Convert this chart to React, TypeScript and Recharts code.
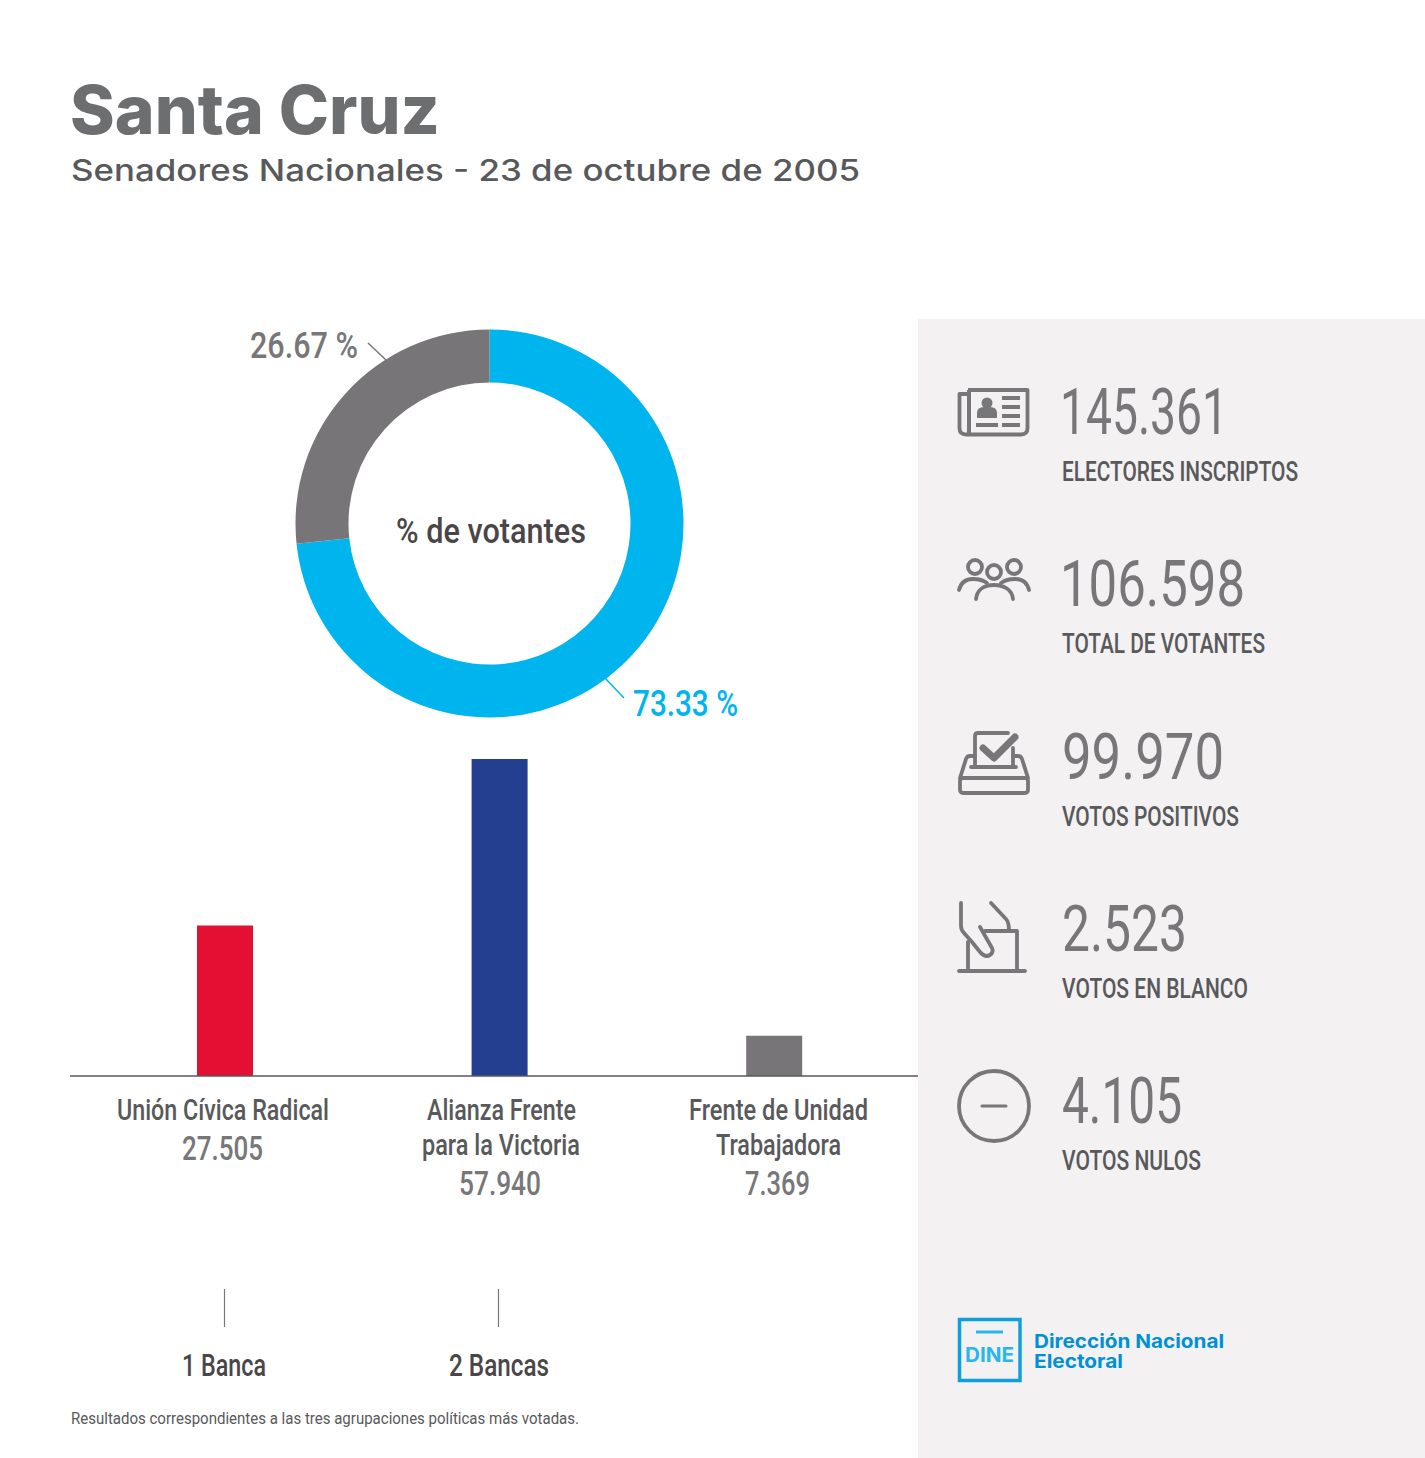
import { BarChart, Bar, Cell, XAxis, YAxis, PieChart, Pie } from "recharts";

const GRAY = "#77777a";
const DARK = "#58595b";
const CONDENSED = "'Roboto', sans-serif";
const WIDE = "'Inter', sans-serif";

// donut
const turnoutLabels = ["Votantes", "No votantes"];
const turnoutValues = [73.33, 26.67];
const turnoutColors = ["#00b5ee", "#777577"];

// bars
const parties = ["Unión Cívica Radical", "Alianza Frente para la Victoria", "Frente de Unidad Trabajadora"];
const partyVotes = [27505, 57940, 7369];
const partyVotesText = ["27.505", "57.940", "7.369"];
const partyColors = ["#e31033", "#243e90", "#777577"];
const partySeats = ["1 Banca", "2 Bancas", ""];

// side panel
const statValues = ["145.361", "106.598", "99.970", "2.523", "4.105"];
const statLabels = ["ELECTORES INSCRIPTOS", "TOTAL DE VOTANTES", "VOTOS POSITIVOS", "VOTOS EN BLANCO", "VOTOS NULOS"];

const barData = parties.map((name, i) => ({ name, votes: partyVotes[i] }));
const pieData = turnoutLabels.map((name, i) => ({ name, value: turnoutValues[i] }));

// layout of the side panel text, [x, width]
const statValueBox = [[1060, 168], [1060, 185], [1062, 162], [1062, 125], [1062, 120]];
const statLabelWidth = [236, 203, 177, 186, 139];

function Fit({ x, y, w, size, fill, weight = 400, font = CONDENSED, children }: any) {
  return (
    <text x={x} y={y} textLength={w} lengthAdjust="spacingAndGlyphs" fontSize={size} fill={fill} fontWeight={weight} fontFamily={font}>
      {children}
    </text>
  );
}

// lines under each bar: [text, x, width, baseline, size, colour, weight]
const tickLines: any[][] = [
  [
    [parties[0], 117, 212, 1120, 29, DARK, 500],
    [partyVotesText[0], 182, 81, 1160, 33, GRAY, 500],
  ],
  [
    ["Alianza Frente", 427, 149, 1120, 29, DARK, 500],
    ["para la Victoria", 422, 158, 1155, 29, DARK, 500],
    [partyVotesText[1], 459, 82, 1195, 33, GRAY, 500],
  ],
  [
    ["Frente de Unidad", 689, 179, 1120, 29, DARK, 500],
    ["Trabajadora", 716, 125, 1155, 29, DARK, 500],
    [partyVotesText[2], 745, 65, 1195, 33, GRAY, 500],
  ],
];
const seatBox = [[182, 84, 224.5], [449, 100, 498.5]];
const CHART_TOP = 700;

function PartyTick({ payload }: any) {
  const i = payload.index;
  return (
    <g>
      {tickLines[i].map(([t, x, w, y, s, c, wt]) => (
        <Fit key={t} x={x} y={y - CHART_TOP} w={w} size={s} fill={c} weight={wt}>{t}</Fit>
      ))}
      {partySeats[i] && (
        <>
          <line x1={seatBox[i][2]} x2={seatBox[i][2]} y1={1289 - CHART_TOP} y2={1327 - CHART_TOP} stroke={GRAY} strokeWidth={1.2} />
          <Fit x={seatBox[i][0]} y={1376 - CHART_TOP} w={seatBox[i][1]} size={31} weight={500} fill="#4a4647">{partySeats[i]}</Fit>
        </>
      )}
    </g>
  );
}

function Icons() {
  const line = { fill: "none", stroke: GRAY, strokeWidth: 3.8, strokeLinecap: "round" as const, strokeLinejoin: "round" as const };
  return (
    <g>
      {/* padron */}
      <path {...line} strokeLinecap="butt" d="M968 390 H1027.5 V428 Q1027.5 434.5 1021 434.5 H966 Q959.5 434.5 959.5 428 V394 H968" />
      <path fill="none" stroke={GRAY} strokeWidth={4} d="M969 390 V434" />
      <circle cx={987} cy={403} r={5.5} fill={GRAY} />
      <path fill={GRAY} d="M977 418 V413 Q977 407 984 407 H990 Q997 407 997 413 V418 Z" />
      <path stroke={GRAY} strokeWidth={4} d="M1002 398 H1020 M1002 407 H1020 M1002 416 H1020 M1002 425 H1020 M976 425 H998" />
      {/* votantes */}
      <circle {...line} cx={975} cy={567} r={7} />
      <circle {...line} cx={1014} cy={567} r={7} />
      <circle {...line} cx={994} cy={572} r={7} />
      <path {...line} d="M976 599 C977 589 985 585 994 585 C1003 585 1012 589 1013 599" />
      <path {...line} d="M959 590 C961 582 967 579 973 579 C979 579 983 580 987 583" />
      <path {...line} d="M1029 590 C1027 582 1021 579 1015 579 C1009 579 1005 580 1001 583" />
      {/* urna */}
      <path {...line} d="M975 765 V736 Q975 733 978 733 H1008" />
      <path {...line} d="M1013 748 V766" />
      <path {...line} d="M971 767 H1016" />
      <path fill="none" stroke={GRAY} strokeWidth={7} strokeLinecap="round" strokeLinejoin="round" d="M983 748 L994 758 L1015 737" />
      <path {...line} d="M975 756 H970 Q967 756 966 759 L960 778 M1013 756 H1018 Q1021 756 1022 759 L1028 778" />
      <rect {...line} x={960} y={778} width={68} height={15} rx={3} />
      {/* en blanco */}
      <path {...line} d="M961 903 V926 Q961 930 964 933 L972 942 L980 952 Q985 958 990 955 Q994 952 992 948 L980 927" />
      <path {...line} d="M991 903 L1006 919 Q1009 922 1009 931" />
      <path {...line} d="M985 931 H1017 V970 M968 942 V970 M959 971 H1025" />
      {/* nulos */}
      <circle {...line} cx={994} cy={1106} r={35} />
      <path {...line} strokeWidth={3} d="M982 1106 H1006" />
    </g>
  );
}

export default function App() {
  return (
    <div style={{ position: "absolute", left: 0, top: 0, width: 1425, height: 1458, background: "#fff", overflow: "hidden" }}>
      <svg width={1425} height={1458} style={{ position: "absolute", left: 0, top: 0 }}>
        <rect x={918} y={319} width={507} height={1139} fill="#f3f1f2" />
        <Fit x={70} y={134} w={370} size={67} weight={800} fill="#6d6e70" font={WIDE}>Santa Cruz</Fit>
        <Fit x={71} y={181} w={789} size={30} weight={500} fill={DARK} font={WIDE}>Senadores Nacionales - 23 de octubre de 2005</Fit>
        <Fit x={71} y={1424} w={508} size={17} fill={DARK}>Resultados correspondientes a las tres agrupaciones políticas más votadas.</Fit>

        {statValues.map((v, i) => (
          <Fit key={v} x={statValueBox[i][0]} y={434 + i * 172.3} w={statValueBox[i][1]} size={65} weight={400} fill={GRAY}>{v}</Fit>
        ))}
        {statLabels.map((v, i) => (
          <Fit key={v} x={1062} y={481 + i * 172.3} w={statLabelWidth[i]} size={27} weight={500} fill={DARK}>{v}</Fit>
        ))}
        <Icons />

        {/* logo */}
        <rect x={959.5} y={1319.5} width={60.5} height={61} fill="none" stroke="#0f9fdc" strokeWidth={3.5} />
        <path d="M976 1332 H1003" stroke="#29b6ee" strokeWidth={3} />
        <Fit x={965} y={1362} w={49} size={20} weight={700} fill="#29b6ee" font={WIDE}>DINE</Fit>
        <Fit x={1034} y={1347.5} w={190} size={19} weight={700} fill="#0090d4" font={WIDE}>Dirección Nacional</Fit>
        <Fit x={1034} y={1368} w={89} size={19} weight={700} fill="#0090d4" font={WIDE}>Electoral</Fit>
      </svg>

      <div style={{ position: "absolute", left: 289, top: 323 }}>
        <PieChart width={401} height={401} margin={{ top: 0, right: 0, bottom: 0, left: 0 }}>
          <Pie
            data={pieData}
            dataKey="value"
            cx={200.5}
            cy={200.5}
            innerRadius={141}
            outerRadius={194}
            startAngle={90}
            endAngle={-270}
            stroke="none"
            isAnimationActive={false}
          >
            {pieData.map((d, i) => (
              <Cell key={d.name} fill={turnoutColors[i]} />
            ))}
          </Pie>
        </PieChart>
      </div>

      <div style={{ position: "absolute", left: 0, top: CHART_TOP }}>
        <BarChart width={918} height={758} data={barData} margin={{ top: 59, right: 0, bottom: 0, left: 70 }}>
          <YAxis hide domain={[0, 57940]} />
          <XAxis
            dataKey="name"
            height={382}
            interval={0}
            padding={{ left: 18, right: 6.2 }}
            tickLine={false}
            axisLine={{ stroke: "#58595b", strokeWidth: 1.4 }}
            tick={<PartyTick />}
          />
          <Bar dataKey="votes" barSize={56} isAnimationActive={false}>
            {barData.map((d, i) => (
              <Cell key={d.name} fill={partyColors[i]} />
            ))}
          </Bar>
        </BarChart>
      </div>

      <svg width={1425} height={1458} style={{ position: "absolute", left: 0, top: 0, pointerEvents: "none" }}>
        <Fit x={396} y={543} w={190} size={35} weight={500} fill="#4a4647">% de votantes</Fit>
        <Fit x={250} y={358} w={108} size={36} weight={500} fill={GRAY}>{`${turnoutValues[1].toFixed(2)} %`}</Fit>
        <Fit x={633} y={716} w={105} size={36} weight={500} fill={turnoutColors[0]}>{`${turnoutValues[0].toFixed(2)} %`}</Fit>
        <line x1={368} y1={343} x2={386} y2={360} stroke={GRAY} strokeWidth={1.5} />
        <line x1={605} y1={678} x2={624} y2={698} stroke={turnoutColors[0]} strokeWidth={1.5} />
      </svg>
    </div>
  );
}
